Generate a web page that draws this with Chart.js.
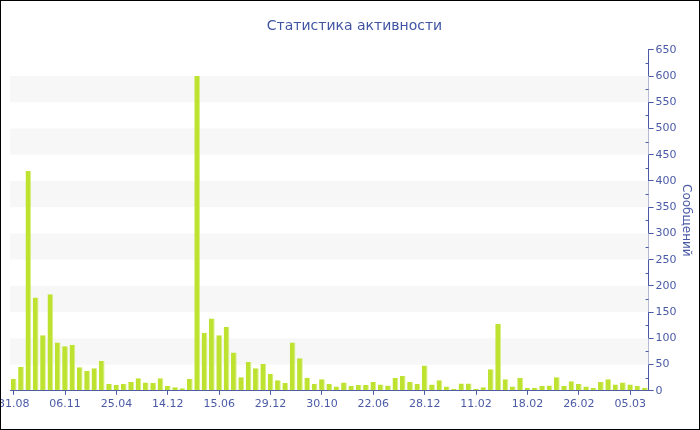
<!DOCTYPE html>
<html>
<head>
<meta charset="utf-8">
<script src="https://cdn.jsdelivr.net/npm/chart.js@4.4.1/dist/chart.umd.min.js"></script>
<style>
  html, body { margin: 0; padding: 0; background: #fff; }
  #box { width: 700px; height: 430px; box-sizing: border-box; border: 1px solid #000; }
  canvas { display: block; }
</style>
</head>
<body>
<div id="box"><canvas id="chart" width="698" height="428"></canvas></div>
<script>
// one date label every 7 bars
const tickLabels = ["31.08", "06.11", "25.04", "14.12", "15.06", "29.12", "30.10",
  "22.06", "28.12", "11.02", "18.02", "26.02", "05.03"];
const tickEvery = 7;

const messages = [
  23, 46, 419, 178, 106, 184, 92, 85, 88, 45, 38, 43, 57, 13, 11, 13, 17, 24, 16, 15,
  24, 9, 7, 5, 23, 600, 110, 138, 106, 122, 73, 26, 55, 43, 51, 32, 20, 15, 92, 62,
  25, 13, 22, 13, 8, 16, 9, 11, 11, 17, 12, 10, 25, 28, 17, 13, 48, 12, 20, 8,
  4, 14, 14, 4, 7, 41, 128, 22, 8, 25, 6, 6, 9, 10, 26, 9, 18, 13, 8, 6,
  17, 22, 12, 16, 12, 9, 6
];

const yMax = 650;
const yStep = 50;

const labels = messages.map((v, i) => i % tickEvery === 0 ? tickLabels[i / tickEvery] || "" : "");

const blue = "#4a5aa6";
Chart.defaults.font.family = "DejaVu Sans";

const bands = {
  id: "bands",
  beforeDatasetsDraw(chart) {
    const { ctx, chartArea: a, scales: { y } } = chart;
    ctx.save();
    ctx.fillStyle = "#f7f7f7";
    for (let v = yStep; v < yMax; v += yStep * 2) {
      const top = y.getPixelForValue(v + yStep), bot = y.getPixelForValue(v);
      ctx.fillRect(a.left, top, a.right - a.left, bot - top);
    }
    ctx.restore();
  },
  afterDraw(chart) {
    // minor ticks between the labelled ones
    const { ctx, chartArea: a, scales: { y } } = chart;
    ctx.save();
    ctx.strokeStyle = blue;
    ctx.lineWidth = 1;
    for (let v = yStep / 2; v < yMax; v += yStep) {
      const py = Math.round(y.getPixelForValue(v)) + 0.5;
      ctx.beginPath();
      ctx.moveTo(a.right - 3, py);
      ctx.lineTo(a.right, py);
      ctx.stroke();
    }
    ctx.restore();
  }
};

new Chart(document.getElementById("chart"), {
  type: "bar",
  data: {
    labels,
    datasets: [{
      data: messages,
      backgroundColor: "#bde22f",
      borderColor: "#d8ef85",
      borderWidth: { top: 0, left: 0, bottom: 0, right: 1 },
      categoryPercentage: 1,
      barPercentage: 0.78
    }]
  },
  options: {
    responsive: false,
    animation: false,
    layout: { padding: { left: 9, right: 0, top: 0, bottom: 15 } },
    plugins: {
      legend: { display: false },
      tooltip: { enabled: false },
      title: {
        display: true,
        text: "Статистика активности",
        color: "#3f55a3",
        font: { size: 14, weight: "normal" },
        padding: { top: 17, bottom: 15 }
      }
    },
    scales: {
      x: {
        offset: true,
        grid: {
          drawOnChartArea: false,
          offset: false,
          tickLength: 4,
          color: c => c.tick && c.tick.label ? blue : "transparent"
        },
        border: { color: blue },
        ticks: { autoSkip: false, maxRotation: 0, color: blue, font: { size: 11 }, padding: 3 },
        afterFit: s => { s.paddingLeft = 0; }
      },
      y: {
        position: "right",
        min: 0,
        max: yMax,
        grid: { drawOnChartArea: false, tickLength: 5, color: blue },
        border: { color: blue },
        ticks: { stepSize: yStep, color: blue, font: { size: 11 }, padding: 2 },
        title: {
          display: true,
          text: "Сообщений",
          color: blue,
          font: { size: 12 },
          padding: { top: 6, bottom: 0 }
        }
      }
    }
  },
  plugins: [bands]
});
</script>
</body>
</html>
